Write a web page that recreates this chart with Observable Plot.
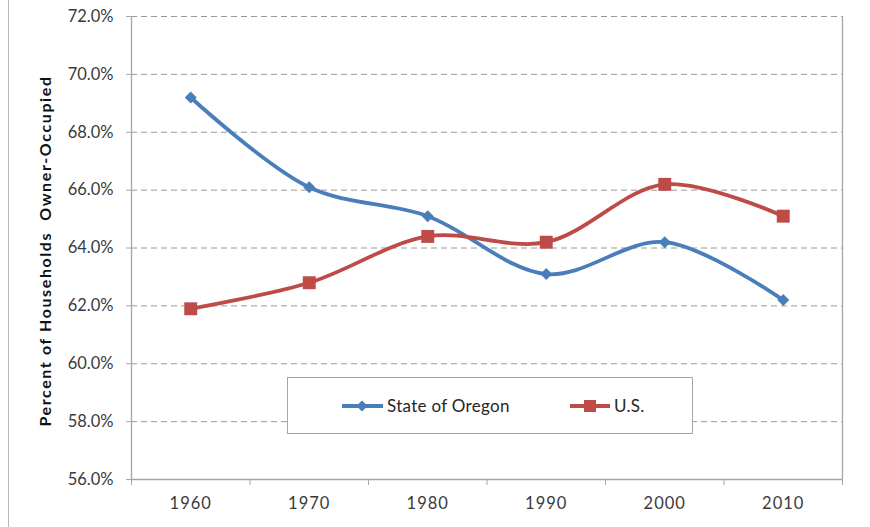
<!DOCTYPE html>
<html>
<head>
<meta charset="utf-8">
<script src="https://cdn.jsdelivr.net/npm/d3@7"></script>
<script src="https://cdn.jsdelivr.net/npm/@observablehq/plot@0.6"></script>
<style>
  html, body { margin: 0; padding: 0; background: #fff; }
  #wrap { position: relative; width: 870px; height: 527px; overflow: hidden; font-family: Lato, "Open Sans", sans-serif; }
  #edge { position: absolute; left: 8px; top: 0; width: 0; height: 527px; border-left: 1px solid #b8b8b8; }
  #legend { position: absolute; left: 287px; top: 377px; width: 406px; height: 57px; border: 1px solid #a6a6a6; background: #fff; box-sizing: border-box; }
  .item { position: absolute; top: 17px; display: flex; align-items: center; font-size: 17px; color: #262626; letter-spacing: 0.3px; }
  .item svg { margin-right: 4px; }
  g[aria-label="x-axis tick label"] text { letter-spacing: 1px; }
  g[aria-label="text"] text { letter-spacing: 1.6px; }
</style>
</head>
<body>
<div id="wrap">
  <div id="edge"></div>
  <div id="chart"></div>
  <div id="legend">
    <div class="item" style="left:54px"><svg width="41" height="14"><line x1="0" y1="7" x2="41" y2="7" stroke="#4A7EBB" stroke-width="3.8"/><path d="M20,1.5L25.5,7L20,12.5L14.5,7Z" fill="#4A7EBB"/></svg>State of Oregon</div>
    <div class="item" style="left:282px"><svg width="40" height="14"><line x1="0" y1="7" x2="40" y2="7" stroke="#BE4B48" stroke-width="3.8"/><rect x="14" y="1" width="12" height="12" fill="#BE4B48"/></svg>U.S.</div>
  </div>
</div>
<script>
const years = ["1960", "1970", "1980", "1990", "2000", "2010"];
const oregon = [69.2, 66.1, 65.1, 63.1, 64.2, 62.2];
const us = [61.9, 62.8, 64.4, 64.2, 66.2, 65.1];
const yTicks = [56, 58, 60, 62, 64, 66, 68, 70, 72];
const gridTicks = [58, 60, 62, 64, 66, 68, 70, 72];
const yTitle = "Percent of Households  Owner-Occupied";

const blue = "#4A7EBB";
const red = "#BE4B48";

const oregonData = years.map((y, i) => ({i, v: oregon[i]}));
const usData = years.map((y, i) => ({i, v: us[i]}));
const bounds = d3.range(years.length + 1).map(k => k - 0.5);

const chart = Plot.plot({
  width: 870,
  height: 527,
  marginLeft: 131,
  marginRight: 28,
  marginTop: 16,
  marginBottom: 48,
  style: {fontFamily: "Lato, 'Open Sans', sans-serif", fontSize: "16px", color: "#404040", background: "transparent"},
  x: {domain: [-0.5, years.length - 0.5], axis: null, label: null},
  y: {domain: [56, 72], axis: null, label: null},
  marks: [
    Plot.ruleY(gridTicks, {stroke: "#9a9a9a", strokeWidth: 1, strokeDasharray: "6,4"}),
    Plot.ruleX([-0.5, years.length - 0.5], {stroke: "#a6a6a6", strokeWidth: 1.3}),
    Plot.ruleY([56], {stroke: "#a6a6a6", strokeWidth: 1.3}),
    Plot.axisY({ticks: yTicks, label: null, tickSize: 5, tickPadding: 13, tickFormat: d => d.toFixed(1) + "%", stroke: "#a6a6a6", fill: "#3a3a3a", fontSize: 16.5}),
    Plot.axisX({ticks: bounds, label: null, tickSize: 6, tickFormat: () => "", stroke: "#a6a6a6"}),
    Plot.axisX({ticks: d3.range(years.length), label: null, tickSize: 0, tickPadding: 18, tickFormat: i => years[i], fill: "#3a3a3a", fontSize: 16.5}),
    Plot.text([yTitle], {frameAnchor: "left", textAnchor: "middle", dx: -86, dy: 3, rotate: -90, fontWeight: "bold", fontSize: 16, fill: "#111"}),
    Plot.line(oregonData, {x: "i", y: "v", stroke: blue, strokeWidth: 3.8, curve: "catmull-rom"}),
    Plot.line(usData, {x: "i", y: "v", stroke: red, strokeWidth: 3.8, curve: "catmull-rom"}),
    Plot.dot(oregonData, {x: "i", y: "v", symbol: "diamond2", r: 5.4, fill: blue, stroke: "none"}),
    Plot.dot(usData, {x: "i", y: "v", symbol: "square", r: 7.3, fill: red, stroke: "none"})
  ]
});
document.getElementById("chart").appendChild(chart);
</script>
</body>
</html>
